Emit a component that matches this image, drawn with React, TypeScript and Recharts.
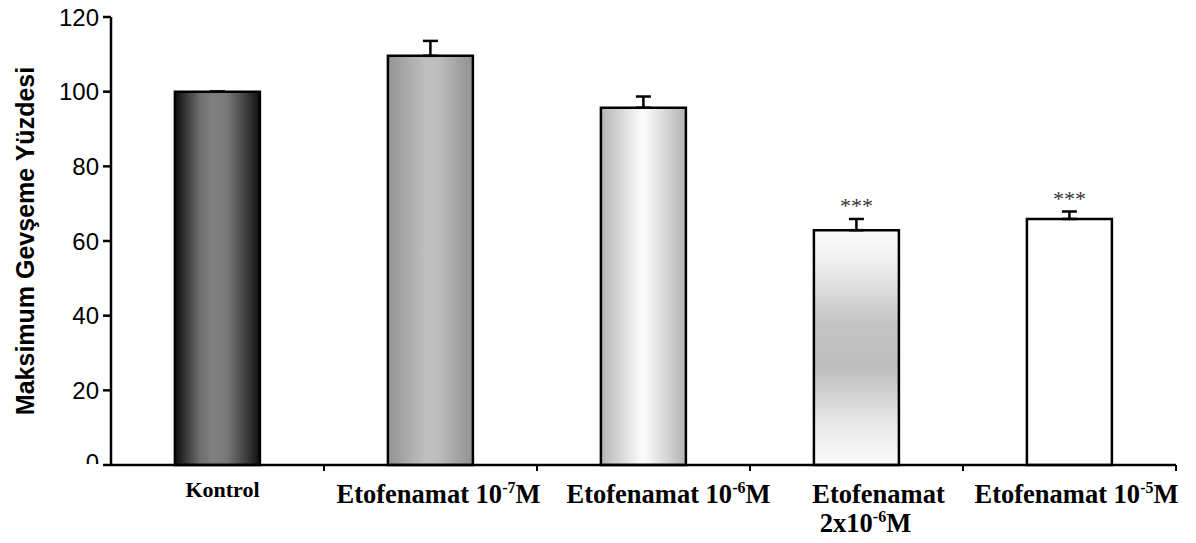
import React from 'react';
import { BarChart, Bar, XAxis, YAxis, Cell, ErrorBar, LabelList } from 'recharts';

// ---- data ----
const categories = ['Kontrol', 'Etofenamat 10-7M', 'Etofenamat 10-6M', 'Etofenamat 2x10-6M', 'Etofenamat 10-5M'];
const values = [100, 109.6, 95.7, 62.9, 65.9];
const errors = [0, 4, 3, 3, 2];
const significance = ['', '', '', '***', '***'];
const yTicks = [0, 20, 40, 60, 80, 100, 120];
const yLabel = 'Maksimum Gevşeme Yüzdesi';

const data = categories.map((name, i) => ({
  name,
  value: values[i],
  err: [0, errors[i]],
  sig: significance[i],
}));

// ---- styles ----
const fills = ['url(#g0)', 'url(#g1)', 'url(#g2)', 'url(#g3)', '#ffffff'];
const labelDx = [[5], [8], [25], [22, 9], [7]];
const SERIF = '"Liberation Serif", "Times New Roman", serif';
const SANS = '"Liberation Sans", Arial, sans-serif';

function renderLine(line: string, size: number) {
  const m = line.match(/^(.*10)(-\d)(M)$/);
  if (!m) return line;
  const supSize = Math.round(size * 0.62);
  return (
    <>
      {m[1]}
      <tspan dy={-size * 0.38} fontSize={supSize}>{m[2]}</tspan>
      <tspan dy={size * 0.38}>{m[3]}</tspan>
    </>
  );
}

const XTick = (props: any) => {
  const { x, y, payload } = props;
  const i = categories.indexOf(payload.value);
  const name: string = payload.value;
  const lines = name.includes('2x') ? ['Etofenamat', '2x10-6M'] : [name];
  const size = i === 0 ? 22 : 26.5;
  const base = i === 0 ? 32 : 38;
  const axisW = typeof props.width === 'number' && props.width > 100 ? props.width : 1065;
  const band = axisW / categories.length;
  return (
    <g>
      <line x1={x + band / 2} y1={y} x2={x + band / 2} y2={y + 6} stroke="#000" strokeWidth={2} />
      {lines.map((ln, li) => (
        <text
          key={li}
          x={x + (labelDx[i][li] ?? labelDx[i][0])}
          y={y + base + li * 29}
          textAnchor="middle"
          fontFamily={SERIF}
          fontWeight="bold"
          fontSize={size}
          fill="#000"
        >
          {renderLine(ln, size)}
        </text>
      ))}
    </g>
  );
};

const YTick = (props: any) => {
  const { x, y, payload } = props;
  const isZero = payload.value === 0;
  return (
    <g>
      {isZero && (
        <defs>
          <clipPath id="zeroClip">
            <rect x={0} y={0} width={x + 10} height={y - 1} />
          </clipPath>
        </defs>
      )}
      <text
        x={x}
        y={isZero ? y - 3 : y}
        textAnchor="end"
        dominantBaseline="central"
        fontFamily={SANS}
        fontSize={24}
        fill="#000"
        clipPath={isZero ? 'url(#zeroClip)' : undefined}
      >
        {payload.value}
      </text>
    </g>
  );
};

const YLabel = (props: any) => {
  const vb = props.viewBox || { x: 0, y: 17, width: 111, height: 448 };
  const cx = vb.x + 25;
  const cy = vb.y + vb.height / 2;
  return (
    <text
      x={cx}
      y={cy}
      transform={`rotate(-90, ${cx}, ${cy})`}
      textAnchor="middle"
      dominantBaseline="central"
      fontFamily={SANS}
      fontWeight="bold"
      fontSize={25}
      fill="#000"
    >
      {yLabel}
    </text>
  );
};

const StarLabel = (props: any) => {
  const { x, y, width, height, index } = props;
  const sig = significance[index];
  if (!sig) return null;
  const pxPerUnit = height / values[index];
  const capY = y - errors[index] * pxPerUnit;
  return (
    <text
      x={x + width / 2}
      y={capY - 6}
      textAnchor="middle"
      fontFamily={SERIF}
      fontSize={22}
      fill="#333"
    >
      {sig}
    </text>
  );
};

export default function App() {
  return (
    <div style={{ width: 1196, height: 543, margin: '-8px 0 0 -8px' }}>
      <BarChart
        width={1196}
        height={543}
        data={data}
        margin={{ top: 17, right: 20, left: 0, bottom: 0 }}
        barCategoryGap="30%"
      >
        <defs>
          <linearGradient id="g0" x1="0" y1="0" x2="1" y2="0">
            <stop offset="0" stopColor="#0d0d0d" />
            <stop offset="0.3" stopColor="#6f6f6f" />
            <stop offset="0.45" stopColor="#808080" />
            <stop offset="0.62" stopColor="#777777" />
            <stop offset="0.85" stopColor="#3a3a3a" />
            <stop offset="1" stopColor="#101010" />
          </linearGradient>
          <linearGradient id="g1" x1="0" y1="0" x2="1" y2="0">
            <stop offset="0" stopColor="#939393" />
            <stop offset="0.45" stopColor="#c0c0c0" />
            <stop offset="0.6" stopColor="#bcbcbc" />
            <stop offset="1" stopColor="#919191" />
          </linearGradient>
          <linearGradient id="g2" x1="0" y1="0" x2="1" y2="0">
            <stop offset="0" stopColor="#b5b5b5" />
            <stop offset="0.48" stopColor="#fbfbfb" />
            <stop offset="0.58" stopColor="#f2f2f2" />
            <stop offset="1" stopColor="#b3b3b3" />
          </linearGradient>
          <linearGradient id="g3" x1="0" y1="0" x2="0" y2="1">
            <stop offset="0" stopColor="#fbfbfb" />
            <stop offset="0.12" stopColor="#f1f1f1" />
            <stop offset="0.4" stopColor="#c4c4c4" />
            <stop offset="0.58" stopColor="#bdbdbd" />
            <stop offset="0.82" stopColor="#e8e8e8" />
            <stop offset="1" stopColor="#fbfbfb" />
          </linearGradient>
        </defs>
        <XAxis
          xAxisId="cat"
          dataKey="name"
          interval={0}
          height={78}
          tickLine={false}
          tickSize={0}
          tickMargin={0}
          axisLine={{ stroke: '#000', strokeWidth: 2.5 }}
          tick={<XTick />}
        />
        <YAxis
          width={111}
          domain={[0, 120]}
          ticks={yTicks}
          interval={0}
          tickSize={8}
          tickMargin={4}
          tickLine={{ stroke: '#000', strokeWidth: 2.5 }}
          axisLine={{ stroke: '#000', strokeWidth: 2.5 }}
          tick={<YTick />}
          label={<YLabel />}
        />
        <Bar
          xAxisId="cat"
          dataKey="value"
          stroke="#000"
          strokeWidth={2.5}
          isAnimationActive={false}
        >
          {data.map((d, i) => (
            <Cell key={d.name} fill={fills[i]} />
          ))}
          <ErrorBar dataKey="err" width={7.5} stroke="#000" strokeWidth={2.5} direction="y" />
          <LabelList dataKey="sig" content={<StarLabel />} />
        </Bar>
      </BarChart>
    </div>
  );
}
